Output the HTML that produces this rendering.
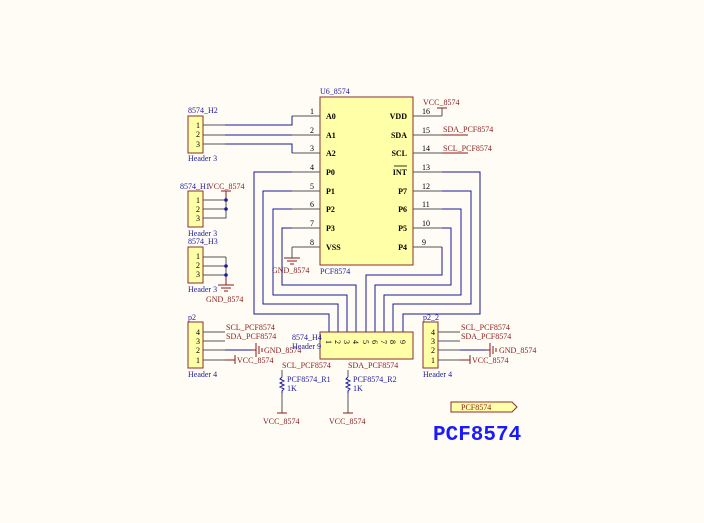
<!DOCTYPE html>
<html><head><style>
html,body{margin:0;padding:0;background:#fffcf6;}
svg{display:block;font-family:"Liberation Serif",serif;}
.b{fill:none;stroke:#1a1a9a;stroke-width:1}
.k{fill:none;stroke:#555;stroke-width:1}
.r{fill:none;stroke:#8a1a1a;stroke-width:1}
.box{fill:#ffffa8;stroke:#8a3030;stroke-width:1}
.tb{fill:#1a1a9a;font-size:8px}
.tr{fill:#8a1a1a;font-size:8px}
.tk{fill:#000;font-size:8px}
.tp{fill:#000;font-size:8px;font-weight:bold}
</style></head><body>
<svg width="704" height="523" viewBox="0 0 704 523" xmlns="http://www.w3.org/2000/svg">
<rect width="704" height="523" fill="#fffcf6"/>
<rect class="box" x="320" y="97" width="93" height="168"/>
<text class="tb" x="320" y="94">U6_8574</text>
<text class="tb" x="320" y="274">PCF8574</text>
<g class="tp">
<text x="326" y="119">A0</text><text x="326" y="138">A1</text><text x="326" y="156">A2</text>
<text x="326" y="175">P0</text><text x="326" y="194">P1</text><text x="326" y="212">P2</text>
<text x="326" y="231">P3</text><text x="326" y="250">VSS</text>
<text x="407" y="119" text-anchor="end">VDD</text><text x="407" y="138" text-anchor="end">SDA</text>
<text x="407" y="156" text-anchor="end">SCL</text><text x="407" y="175" text-anchor="end">INT</text>
<text x="407" y="194" text-anchor="end">P7</text><text x="407" y="212" text-anchor="end">P6</text>
<text x="407" y="231" text-anchor="end">P5</text><text x="407" y="250" text-anchor="end">P4</text>
</g>
<line x1="394" y1="166" x2="407" y2="166" stroke="#000" stroke-width="0.8"/>
<g class="tk">
<text x="310" y="114">1</text><text x="310" y="133">2</text><text x="310" y="151">3</text>
<text x="310" y="170">4</text><text x="310" y="189">5</text><text x="310" y="207">6</text>
<text x="310" y="226">7</text><text x="310" y="245">8</text>
<text x="422" y="114">16</text><text x="422" y="133">15</text><text x="422" y="151">14</text>
<text x="422" y="170">13</text><text x="422" y="189">12</text><text x="422" y="207">11</text>
<text x="422" y="226">10</text><text x="422" y="245">9</text>
</g>
<g class="k">
<path d="M292 116H320M292 135H320M292 153H320M292 172H320M292 191H320M292 209H320M292 228H320M292 247H320"/>
<path d="M413 116H442M413 135H442M413 153H442M413 172H442M413 191H442M413 209H442M413 228H442M413 247H442"/>
</g>
<rect class="box" x="188" y="116" width="15" height="37"/>
<text class="tb" x="188" y="113">8574_H2</text><text class="tb" x="188" y="161">Header 3</text>
<g class="tk"><text x="196" y="128">1</text><text x="196" y="137">2</text><text x="196" y="147">3</text></g>
<path class="k" d="M203 125H225M203 135H225M203 144H225"/>
<path class="b" d="M225 125H292V116M225 135H292M225 144H292V153"/>
<path class="r" d="M442 135H468M442 153H468"/>
<text class="tr" x="443" y="132">SDA_PCF8574</text><text class="tr" x="443" y="151">SCL_PCF8574</text>
<path class="r" d="M437 108H447"/>
<path class="k" d="M442 116V108"/>
<text class="tr" x="423" y="105">VCC_8574</text>
<rect class="box" x="188" y="191" width="15" height="36"/>
<text class="tb" x="180" y="189">8574_H1</text><text class="tr" x="208" y="189">VCC_8574</text>
<text class="tb" x="188" y="236">Header 3</text>
<g class="tk"><text x="196" y="203">1</text><text x="196" y="212">2</text><text x="196" y="221">3</text></g>
<path class="k" d="M203 200H226M203 209H226M203 218H226V200"/>
<path class="r" d="M226 200V191M221 191H231"/>
<circle cx="226" cy="200" r="1.8" fill="#1a1a9a"/><circle cx="226" cy="209" r="1.8" fill="#1a1a9a"/>
<rect class="box" x="188" y="247" width="15" height="36"/>
<text class="tb" x="188" y="244">8574_H3</text><text class="tb" x="188" y="292">Header 3</text>
<g class="tk"><text x="196" y="259">1</text><text x="196" y="268">2</text><text x="196" y="277">3</text></g>
<path class="k" d="M203 257H226M203 266H226M203 275H226V257"/>
<path class="r" d="M226 275V285M218 285H234M221 288H231M224 291H228"/>
<circle cx="226" cy="266" r="1.8" fill="#1a1a9a"/><circle cx="226" cy="275" r="1.8" fill="#1a1a9a"/>
<text class="tr" x="206" y="302">GND_8574</text>
<path class="k" d="M292 247V258"/>
<path class="r" d="M284 258H300M287 261H297M290 264H294"/>
<text class="tr" x="272" y="273">GND_8574</text>
<path class="b" d="M292 172H254V314H329V332"/>
<path class="b" d="M292 191H263V304H338V332"/>
<path class="b" d="M292 209H273V295H347V332"/>
<path class="b" d="M292 228H282V285H356V332"/>
<path class="b" d="M442 247V275H366V332"/>
<path class="b" d="M442 228H451V285H375V332"/>
<path class="b" d="M442 209H461V295H384V332"/>
<path class="b" d="M442 191H471V304H393V332"/>
<path class="b" d="M442 172H480V314H403V332"/>
<rect class="box" x="320" y="332" width="93" height="27"/>
<text class="tb" x="292" y="340">8574_H4</text><text class="tb" x="292" y="349">Header 9</text>
<g class="tk" font-size="8">
<text transform="translate(326,340) rotate(90)">1</text><text transform="translate(335,340) rotate(90)">2</text>
<text transform="translate(344,340) rotate(90)">3</text><text transform="translate(353,340) rotate(90)">4</text>
<text transform="translate(363,340) rotate(90)">5</text><text transform="translate(372,340) rotate(90)">6</text>
<text transform="translate(381,340) rotate(90)">7</text><text transform="translate(390,340) rotate(90)">8</text>
<text transform="translate(400,340) rotate(90)">9</text>
</g>
<rect class="box" x="188" y="322" width="15" height="46"/>
<text class="tb" x="188" y="320">p2</text><text class="tb" x="188" y="377">Header 4</text>
<g class="tk"><text x="196" y="335">4</text><text x="196" y="344">3</text><text x="196" y="353">2</text><text x="196" y="363">1</text></g>
<path class="k" d="M203 332H225M203 341H225M203 350H225M203 360H225"/>
<path class="b" d="M225 350H252"/>
<path class="r" d="M225 360H235M235 355V364M252 350H256M256 343V357M259 346V354M262 348V352"/>
<text class="tr" x="226" y="330">SCL_PCF8574</text><text class="tr" x="226" y="339">SDA_PCF8574</text>
<text class="tr" x="264" y="353">GND_8574</text><text class="tr" x="237" y="363">VCC_8574</text>
<rect class="box" x="423" y="322" width="15" height="46"/>
<text class="tb" x="423" y="320">p2_2</text><text class="tb" x="423" y="377">Header 4</text>
<g class="tk"><text x="431" y="335">4</text><text x="431" y="344">3</text><text x="431" y="353">2</text><text x="431" y="363">1</text></g>
<path class="k" d="M438 332H460M438 341H460M438 350H460M438 360H460"/>
<path class="b" d="M460 350H486"/>
<path class="r" d="M460 360H470M470 355V364M486 350H490M490 343V357M493 346V354M496 348V352"/>
<text class="tr" x="461" y="330">SCL_PCF8574</text><text class="tr" x="461" y="339">SDA_PCF8574</text>
<text class="tr" x="499" y="353">GND_8574</text><text class="tr" x="472" y="363">VCC_8574</text>
<text class="tr" x="282" y="368">SCL_PCF8574</text><text class="tr" x="348" y="368">SDA_PCF8574</text>
<path class="k" d="M282 370V377M282 393V413M348 370V377M348 393V413"/>
<path class="b" d="M282 377l-2 2 4 2-4 2 4 2-4 2 4 2-2 2V393M348 377l-2 2 4 2-4 2 4 2-4 2 4 2-2 2V393"/>
<path class="r" d="M277 413H287M343 413H353"/>
<text class="tb" x="287" y="382">PCF8574_R1</text><text class="tb" x="287" y="391">1K</text>
<text class="tb" x="353" y="382">PCF8574_R2</text><text class="tb" x="353" y="391">1K</text>
<text class="tr" x="263" y="424">VCC_8574</text><text class="tr" x="329" y="424">VCC_8574</text>
<path d="M451 402H512L517 407L512 412H451Z" fill="#ffffa8" stroke="#8a3030"/>
<text class="tr" x="461" y="410">PCF8574</text>
<text x="433" y="440" fill="#1a1aff" font-family="Liberation Mono,monospace" font-weight="bold" font-size="21">PCF8574</text>
</svg>
</body></html>
